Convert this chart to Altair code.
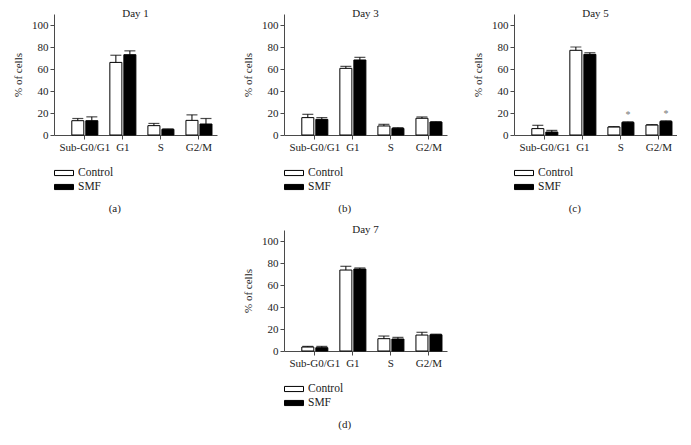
import altair as alt
import pandas as pd

phases = ["Sub-G0/G1", "G1", "S", "G2/M"]
groups = ["Control", "SMF"]
days = ["Day 1", "Day 3", "Day 5", "Day 7"]
captions = ["(a)", "(b)", "(c)", "(d)"]
y_ticks = [0, 20, 40, 60, 80, 100]

# mean % of cells per phase
day1_control = [13.0, 66.0, 8.5, 13.3]
day1_control_err = [2.0, 6.5, 2.0, 5.0]
day1_smf = [13.0, 73.0, 5.2, 10.0]
day1_smf_err = [3.5, 3.5, 0.3, 5.0]

day3_control = [15.8, 60.6, 8.2, 15.2]
day3_control_err = [3.0, 1.8, 1.5, 1.2]
day3_smf = [14.2, 68.2, 6.0, 11.8]
day3_smf_err = [1.6, 2.4, 0.7, 0.3]

day5_control = [5.8, 77.0, 7.3, 9.1]
day5_control_err = [3.0, 3.0, 0.3, 0.3]
day5_smf = [2.7, 73.3, 11.5, 12.4]
day5_smf_err = [1.5, 1.5, 0.5, 0.5]
day5_smf_sig = ["", "", "*", "*"]

day7_control = [3.6, 73.6, 11.2, 14.5]
day7_control_err = [0.6, 3.4, 2.4, 2.5]
day7_smf = [3.0, 74.5, 10.9, 14.8]
day7_smf_err = [1.2, 1.0, 1.5, 0.5]

no_sig = ["", "", "", ""]

panels_data = [
    (day1_control, day1_control_err, day1_smf, day1_smf_err, no_sig),
    (day3_control, day3_control_err, day3_smf, day3_smf_err, no_sig),
    (day5_control, day5_control_err, day5_smf, day5_smf_err, day5_smf_sig),
    (day7_control, day7_control_err, day7_smf, day7_smf_err, no_sig),
]

FONT = "Liberation Serif"
AXIS_COLOR = "#4a4a4a"


def make_df(c, ce, s, se, sig):
    rows = []
    for i, p in enumerate(phases):
        rows.append({"phase": p, "group": "Control", "mean": c[i], "top": c[i] + ce[i], "star": ""})
        rows.append({"phase": p, "group": "SMF", "mean": s[i], "top": s[i] + se[i], "star": sig[i]})
    return pd.DataFrame(rows)


def y_axis():
    return alt.Axis(
        title="% of cells", values=y_ticks, grid=False,
        labelFont=FONT, labelFontSize=11, labelColor="#222",
        titleFont=FONT, titleFontSize=11, titleFontWeight="normal",
        titleColor="#222", titlePadding=8, tickSize=4,
        tickColor=AXIS_COLOR, domainColor=AXIS_COLOR, labelPadding=2,
        labelOverlap=False, labelBound=False, labelFlush=False,
    )


def y_scale():
    return alt.Scale(domain=[0, 110], nice=False, zero=True)


def panel(idx):
    df = make_df(*panels_data[idx])
    base = alt.Chart(df).encode(
        x=alt.X(
            "phase:N",
            sort=phases,
            scale=alt.Scale(paddingInner=0.316, paddingOuter=0.30, align=0.78),
            axis=alt.Axis(
                title=None, labelAngle=0, labelFont=FONT, labelFontSize=11,
                labelColor="#222", tickSize=4, tickColor=AXIS_COLOR,
                domainColor=AXIS_COLOR, labelPadding=2, labelOverlap=False,
            ),
        ),
        xOffset=alt.XOffset("group:N", sort=groups, scale=alt.Scale(paddingInner=0.143)),
    )
    bars = base.mark_bar(stroke="black", strokeWidth=1).encode(
        y=alt.Y("mean:Q", scale=y_scale(), axis=y_axis()),
        color=alt.Color(
            "group:N", sort=groups,
            scale=alt.Scale(domain=groups, range=["white", "black"]),
            legend=alt.Legend(
                title=None, orient="bottom", direction="vertical",
                symbolType="M-1,-0.27L1,-0.27L1,0.27L-1,0.27Z", symbolSize=361,
                symbolStrokeColor="black", symbolStrokeWidth=1,
                labelFont=FONT, labelFontSize=11.5, labelColor="#222",
                clipHeight=12, rowPadding=2, offset=15, labelOffset=4,
            ),
        ),
    )
    rules = base.mark_rule(color="black", strokeWidth=1).encode(
        y=alt.Y("mean:Q", scale=y_scale(), axis=y_axis()), y2="top:Q"
    )
    caps = base.mark_tick(color="black", thickness=1.2, size=11).encode(
        y=alt.Y("top:Q", scale=y_scale(), axis=y_axis())
    )
    stars = base.mark_text(dy=-7, font=FONT, fontSize=10, color="#777").encode(
        y=alt.Y("top:Q", scale=y_scale(), axis=y_axis()), text="star:N"
    )
    layer = alt.layer(bars, rules, caps, stars).properties(
        width=163, height=121,
        title=alt.Title(days[idx], frame="group", anchor="middle", font=FONT,
                        fontSize=11, fontWeight="normal", color="#222", offset=-5),
    )
    return alt.vconcat(
        layer,
        title=alt.Title(captions[idx], orient="bottom", anchor="middle", font=FONT,
                        fontSize=11, fontWeight="normal", color="#222", offset=10),
    ).resolve_scale(color="independent")


row1 = alt.hconcat(panel(0), panel(1), panel(2), spacing=25).resolve_scale(color="independent")
row2 = alt.hconcat(panel(3), spacing=25).resolve_scale(color="independent")

chart = alt.vconcat(row1, row2, spacing=10, center=True).resolve_scale(
    color="independent"
).properties(
    padding={"left": 4, "top": 0, "right": 0, "bottom": 0},
    background="white",
).configure(font=FONT).configure_view(stroke=None).configure_legend(
    labelFont=FONT
)

chart.save("out.html", embed_options={"renderer": "svg", "actions": False})
